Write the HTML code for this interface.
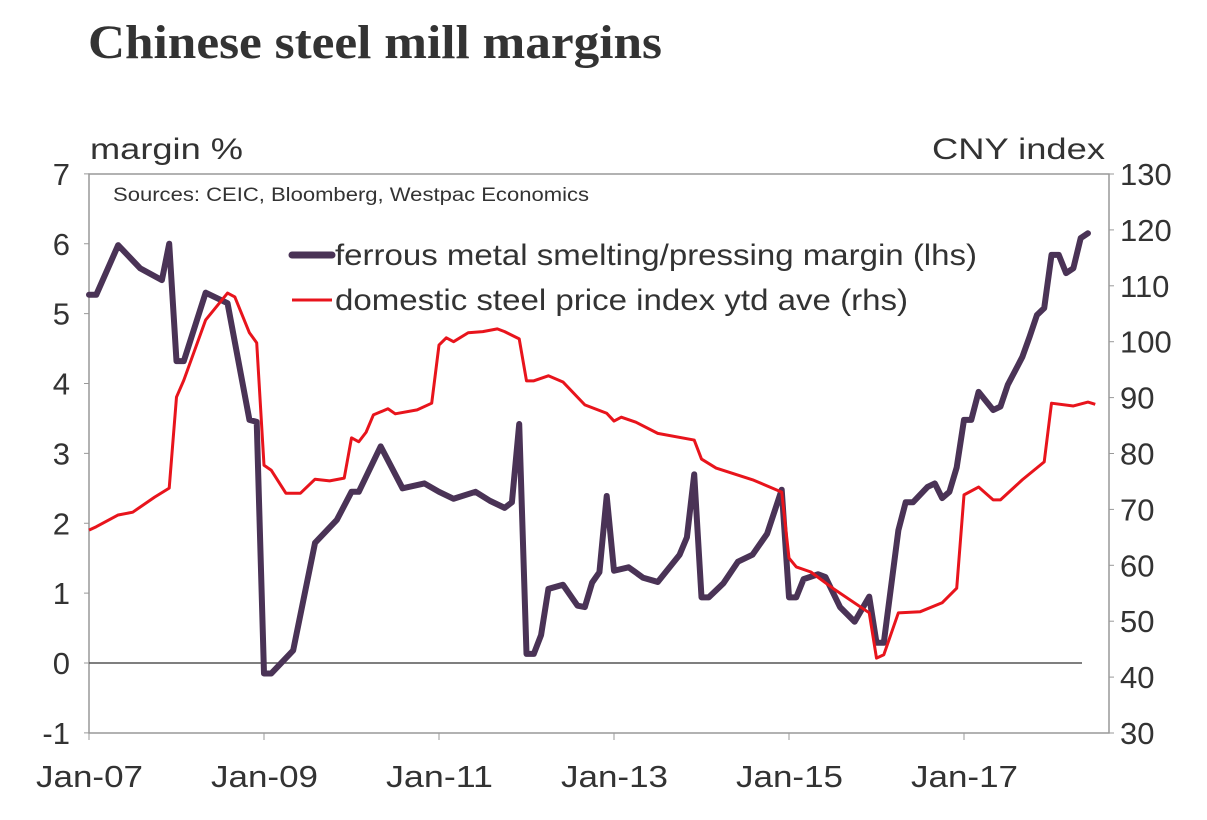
<!DOCTYPE html>
<html><head><meta charset="utf-8"><style>
body{margin:0;background:#fff;width:1207px;height:815px;overflow:hidden}
svg text{font-family:"Liberation Sans",sans-serif;fill:#333}
</style></head><body>
<svg width="1207" height="815">
<text x="88" y="58" textLength="574" lengthAdjust="spacingAndGlyphs" style="font-family:'Liberation Serif',serif;font-weight:bold;font-size:48px;fill:#333">Chinese steel mill margins</text>
<text x="90" y="159" font-size="30" textLength="153" lengthAdjust="spacingAndGlyphs">margin %</text>
<text x="932" y="159" font-size="30" textLength="173" lengthAdjust="spacingAndGlyphs">CNY index</text>
<rect x="89" y="174" width="1020" height="559" fill="none" stroke="#999" stroke-width="1.5"/>
<text x="113" y="201" font-size="19" textLength="476" lengthAdjust="spacingAndGlyphs">Sources: CEIC, Bloomberg, Westpac Economics</text>
<g id="axes"></g>
<g id="lines"></g>
<g>
<line x1="292" y1="255" x2="332" y2="255" stroke="#4a3356" stroke-width="7" stroke-linecap="round"/>
<text x="335" y="265" font-size="30" textLength="642" lengthAdjust="spacingAndGlyphs">ferrous metal smelting/pressing margin (lhs)</text>
<line x1="292" y1="300" x2="332" y2="300" stroke="#e8141c" stroke-width="3"/>
<text x="335" y="310" font-size="30" textLength="573" lengthAdjust="spacingAndGlyphs">domestic steel price index ytd ave (rhs)</text>
</g>
</svg>
<script>
const leftTicks=[-1,0,1,2,3,4,5,6,7];
const rightTicks=[30,40,50,60,70,80,90,100,110,120,130];
const xLabels=["Jan-07","Jan-09","Jan-11","Jan-13","Jan-15","Jan-17"];
const xLabelMonths=[0,24,48,72,96,120];
const marginMonths=[0,1,4,7,10,11,12,13,16,19,22,23,24,25,28,31,34,36,37,40,43,46,48,50,53,55,57,58,59,60,61,62,63,65,67,68,69,70,71,72,74,76,78,81,82,83,84,85,87,89,91,93,95,96,97,98,100,101,103,105,107,108,109,111,112,113,115,116,117,118,119,120,121,122,124,125,126,128,129,130,131,132,133,134,135,136,137];
const marginValues=[5.27,5.27,5.98,5.65,5.48,6.0,4.32,4.32,5.3,5.15,3.48,3.45,-0.15,-0.15,0.18,1.72,2.05,2.45,2.45,3.1,2.5,2.57,2.45,2.35,2.45,2.32,2.22,2.3,3.42,0.13,0.13,0.4,1.06,1.12,0.82,0.8,1.15,1.3,2.39,1.32,1.37,1.22,1.16,1.55,1.8,2.7,0.94,0.94,1.14,1.45,1.55,1.85,2.48,0.94,0.94,1.2,1.27,1.23,0.8,0.59,0.95,0.29,0.29,1.9,2.3,2.3,2.52,2.57,2.36,2.45,2.8,3.48,3.48,3.88,3.62,3.67,3.98,4.38,4.67,4.98,5.08,5.84,5.84,5.58,5.65,6.08,6.15];
const priceMonths=[0,1,4,6,9,11,12,13,16,19,20,22,23,24,25,27,29,31,33,35,36,37,38,39,41,42,45,47,48,49,50,52,54,56,57,59,60,61,63,65,68,71,72,73,75,78,83,84,86,91,95,96,97,99,102,107,108,109,111,114,117,119,120,122,124,125,128,131,132,135,137,138];
const priceValues=[66.3,66.9,69,69.5,72.2,73.8,90.1,93.1,103.9,108.7,108,101.6,99.8,77.9,77,72.9,72.9,75.4,75.1,75.6,82.8,82.1,83.8,86.9,88,87.1,87.8,89,99.4,100.7,100,101.6,101.8,102.3,101.8,100.5,93,93,93.9,92.8,88.7,87.2,85.8,86.5,85.6,83.6,82.4,79,77.4,75.3,73.1,61.3,59.7,58.8,55.9,51.5,43.4,44,51.5,51.7,53.3,55.9,72.6,74,71.7,71.7,75.3,78.5,89,88.5,89.2,88.8];
const NS="http://www.w3.org/2000/svg";
const X=m=>89+m*7.2917;
const YL=v=>663-v*69.875;
const YR=v=>174+(130-v)*5.59;
const axes=document.getElementById('axes'),lines=document.getElementById('lines');
function mk(tag,attrs,parent){const e=document.createElementNS(NS,tag);for(const k in attrs)e.setAttribute(k,attrs[k]);parent.appendChild(e);return e;}
leftTicks.forEach(v=>{
 const t=mk('text',{x:70,y:YL(v)+11,'font-size':31,'text-anchor':'end'},axes);t.textContent=v;
 
 
 const l=mk('line',{x1:84,x2:89,y1:YL(v),y2:YL(v),stroke:'#999'},axes);
 
 
});
rightTicks.forEach(v=>{
 const t=mk('text',{x:1120,y:YR(v)+11,'font-size':31},axes);t.textContent=v;
 
 
 const l=mk('line',{x1:1109,x2:1114,y1:YR(v),y2:YR(v),stroke:'#999'},axes);
 
 
});
xLabels.forEach((s,i)=>{
 const t=mk('text',{x:X(xLabelMonths[i])-53,y:787,'font-size':31,textLength:107,lengthAdjust:'spacingAndGlyphs'},axes);t.textContent=s;
 
 
});
for(let m=0;m<=138;m+=24){const l=mk('line',{x1:X(m),x2:X(m),y1:733,y2:740,stroke:'#999'},axes);
 
 }
const z=mk('line',{x1:89,x2:1082,y1:YL(0),y2:YL(0),stroke:'#555','stroke-width':1.5},axes);


const pp=mk('polyline',{points:priceMonths.map((m,i)=>X(m)+','+YR(priceValues[i])).join(' '),fill:'none',stroke:'#e8141c','stroke-width':3,'stroke-linejoin':'round'},lines);


const mp=mk('polyline',{points:marginMonths.map((m,i)=>X(m)+','+YL(marginValues[i])).join(' '),fill:'none',stroke:'#4a3356','stroke-width':6,'stroke-linejoin':'round','stroke-linecap':'round'},lines);


lines.insertBefore(mp,pp);
</script>
</body></html>
